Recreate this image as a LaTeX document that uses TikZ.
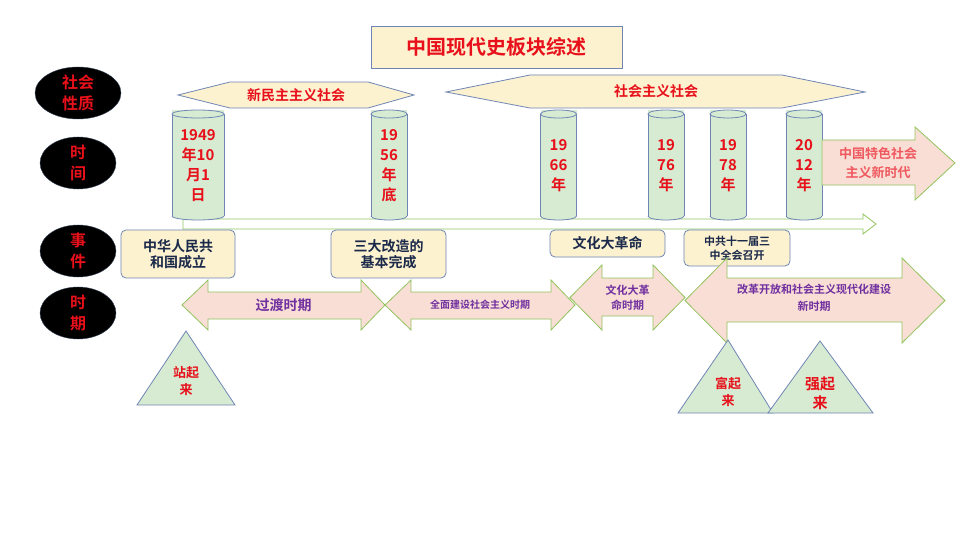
\documentclass[tikz,border=0pt]{standalone}
\usepackage{fontspec}
\setmainfont{Liberation Serif}
\newfontfamily\cjk{Noto Sans CJK SC}[BoldFont={Noto Sans CJK SC Bold}]
\usetikzlibrary{shapes.geometric}
\definecolor{tyellow}{HTML}{FDF2D0}
\definecolor{tborder}{HTML}{6F86B5}
\definecolor{tgreen}{HTML}{D6EBD2}
\definecolor{gline}{HTML}{92C45E}
\definecolor{tpink}{HTML}{F8DED4}
\definecolor{tred}{HTML}{E8101A}
\definecolor{tpurple}{HTML}{7030A0}
\definecolor{tnavy}{HTML}{1B2A4A}
\tikzset{
  yel/.style={fill=tyellow,draw=tborder,line width=0.8pt},
  grn/.style={fill=tgreen,draw=tborder,line width=0.8pt},
  pk/.style={fill=tpink,draw=gline,line width=0.8pt},
  lbl/.style={font=\cjk\bfseries,align=center,inner sep=0pt},
  redt/.style={lbl,text=tred},
  evt/.style={yel,rounded corners=5pt,font=\cjk\bfseries\fontsize{14}{16}\selectfont,text=tnavy,align=center,inner sep=0pt},
}
\newcommand{\cyl}[5]{% cx, rx, name, text, ycenter
  \fill[tgreen] (#1-#2,110) rectangle (#1+#2,216);
  \draw[tborder,line width=0.8pt,fill=tgreen] (#1-#2,216) arc[start angle=180,end angle=360,x radius=#2,y radius=-4];
  \draw[tborder,line width=0.8pt] (#1-#2,114) -- (#1-#2,216) (#1+#2,114) -- (#1+#2,216);
  \draw[tborder,line width=0.8pt,fill=tgreen] (#1,114) ellipse[x radius=#2,y radius=4];
  \node[redt,font=\cjk\bfseries\fontsize{15}{20}\selectfont] (#3) at (#1,#5) {#4};
}
\newcommand{\darr}[9]{% x1,x2,bt,bb,ht,hb,hl,hr,name
  \pgfmathsetmacro{\mid}{(#5+#6)/2}
  \draw[pk] (#1,\mid) -- (#1+#7,#5) -- (#1+#7,#3) -- (#2-#8,#3) -- (#2-#8,#5) -- (#2,\mid) -- (#2-#8,#6) -- (#2-#8,#4) -- (#1+#7,#4) -- (#1+#7,#6) -- cycle;
  \coordinate (#9) at ({(#1+#2)/2},\mid);
}
\begin{document}
\begin{tikzpicture}[x=1pt,y=-1pt]
\useasboundingbox[fill=white] (0,0) rectangle (960,540);
% title
\node[yel,minimum width=251pt,minimum height=42pt,inner sep=0pt,text=tred,font=\cjk\bfseries\fontsize{20}{22}\selectfont] (title) at (496.5,47) {中国现代史板块综述};
% black ellipses
\foreach \n/\y/\rx/\t in {e1/93/43/社会\\性质, e2/163/38/时\\间, e3/251/38/事\\件, e4/313/38/时\\期}{
  \node[ellipse,fill=black,draw=tborder!50!black,minimum width=2*\rx pt,minimum height=52pt,inner sep=0pt] (\n) at (78,\y) {};
  \node[redt,font=\cjk\bfseries\fontsize{16}{21}\selectfont] (\n t) at (78,\y) {\t};
}
% hexagons
\draw[yel] (178,95) -- (230,82) -- (368,82) -- (414,95) -- (368,108) -- (230,108) -- cycle;
\node[redt,font=\cjk\bfseries\fontsize{14}{16}\selectfont] (h1) at (296,95) {新民主主义社会};
\draw[yel] (446,92) -- (530,75) -- (782,75) -- (865,92) -- (782,108) -- (530,108) -- cycle;
\node[redt,font=\cjk\bfseries\fontsize{14}{16}\selectfont] (h2) at (656,91) {社会主义社会};
% timeline arrow (hollow)
\draw[gline,line width=0.8pt,fill=white] (183,219) -- (863,219) -- (863,214) -- (876,224) -- (863,234) -- (863,229) -- (183,229) -- cycle;
% cylinders
\cyl{198}{26}{c1}{1949\\年10\\月1\\日}{166}
\cyl{389}{18}{c2}{19\\56\\年\\底}{166}
\cyl{558.5}{18}{c3}{19\\66\\年}{166}
\cyl{666}{18}{c4}{19\\76\\年}{166}
\cyl{728}{18}{c5}{19\\78\\年}{166}
\cyl{804}{18}{c6}{20\\12\\年}{166}
% new era arrow
\draw[pk] (822,140) -- (915,140) -- (915,127) -- (955,163) -- (915,200) -- (915,185) -- (822,185) -- cycle;
\node[lbl,text=tred!70!white,font=\cjk\bfseries\fontsize{13}{19}\selectfont] (era) at (878,163) {中国特色社会\\主义新时代};
% events
\node[evt,minimum width=114pt,minimum height=48pt] (ev1) at (178,254) {中华人民共\\和国成立};
\node[evt,minimum width=115pt,minimum height=48pt] (ev2) at (388.5,254) {三大改造的\\基本完成};
\node[evt,minimum width=115pt,minimum height=27pt] (ev3) at (607.5,243.5) {文化大革命};
\node[evt,minimum width=106pt,minimum height=36pt,font=\cjk\bfseries\fontsize{11}{14}\selectfont] (ev4) at (737,248) {中共十一届三\\中全会召开};
% period arrows
\darr{182}{385}{292}{319}{280}{330}{26}{24}{p1}
\darr{385}{575}{292}{319}{280}{330}{26}{24}{p2}
\darr{570}{685}{278}{316}{265}{330}{32}{32}{p3}
\darr{685}{945}{278}{322}{258}{343}{42}{43}{p4}
\node[lbl,text=tpurple,font=\cjk\bfseries\fontsize{14}{16}\selectfont] (p1t) at (p1) {过渡时期};
\node[lbl,text=tpurple,font=\cjk\bfseries\fontsize{10}{12}\selectfont] (p2t) at (p2) {全面建设社会主义时期};
\node[lbl,text=tpurple,font=\cjk\bfseries\fontsize{11}{15}\selectfont] (p3t) at (p3) {文化大革\\命时期};
\node[lbl,text=tpurple,font=\cjk\bfseries\fontsize{11}{17}\selectfont] (p4t) at (814,298) {改革开放和社会主义现代化建设\\新时期};
% triangles
\draw[grn] (186,331) -- (235,405) -- (137,405) -- cycle;
\node[redt,font=\cjk\bfseries\fontsize{13}{17}\selectfont] (t1) at (186,381) {站起\\来};
\draw[grn] (728,340) -- (773,413) -- (678,413) -- cycle;
\node[redt,font=\cjk\bfseries\fontsize{13}{17}\selectfont] (t2) at (728,392) {富起\\来};
\draw[grn] (820,341) -- (873,413) -- (768,413) -- cycle;
\node[redt,font=\cjk\bfseries\fontsize{15}{19}\selectfont] (t3) at (820,393) {强起\\来};
\end{tikzpicture}
\end{document}
